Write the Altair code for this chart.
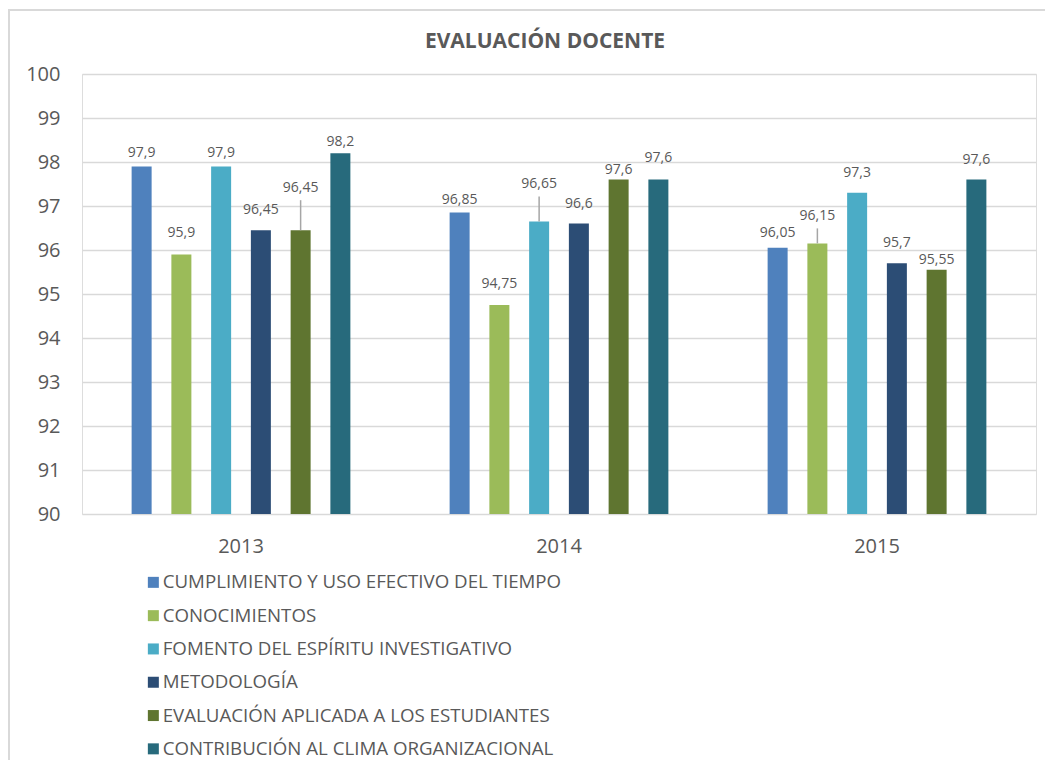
import altair as alt
import pandas as pd

# ---- data ----
years = ["2013", "2014", "2015"]
series = [
    "CUMPLIMIENTO Y USO EFECTIVO DEL TIEMPO",
    "CONOCIMIENTOS",
    "FOMENTO DEL ESPÍRITU INVESTIGATIVO",
    "METODOLOGÍA",
    "EVALUACIÓN APLICADA A LOS ESTUDIANTES",
    "CONTRIBUCIÓN AL CLIMA ORGANIZACIONAL",
]
values_2013 = [97.9, 95.9, 97.9, 96.45, 96.45, 98.2]
values_2014 = [96.85, 94.75, 96.65, 96.6, 97.6, 97.6]
values_2015 = [96.05, 96.15, 97.3, 95.7, 95.55, 97.6]
labels_2013 = ["97,9", "95,9", "97,9", "96,45", "96,45", "98,2"]
labels_2014 = ["96,85", "94,75", "96,65", "96,6", "97,6", "97,6"]
labels_2015 = ["96,05", "96,15", "97,3", "95,7", "95,55", "97,6"]

colors = ["#4f81bd", "#9bbb59", "#4bacc6", "#2c4d75", "#5f7530", "#276a7c"]

# ---- label placement (styling, pixels above the bar top) ----
label_lift_px = {
    "2013": [13, 21, 13, 20, 42, 11],
    "2014": [13, 21, 37, 20, 10, 22],
    "2015": [15, 27, 20, 20, 10, 20],
}
leader_lines = {("2013", 4), ("2014", 2), ("2015", 1)}

W, H = 954, 440
YMIN, YMAX = 90, 100
PX_PER_UNIT = H / (YMAX - YMIN)

rows = []
for y, vals, labs in zip(years, [values_2013, values_2014, values_2015],
                         [labels_2013, labels_2014, labels_2015]):
    for i, (s, v, l) in enumerate(zip(series, vals, labs)):
        lift = label_lift_px[y][i]
        rows.append({
            "year": y, "series": s, "order": i, "value": v, "label": l,
            "label_y": v + lift / PX_PER_UNIT,
            "leader": (y, i) in leader_lines,
            "leader_top": v + (lift - 12) / PX_PER_UNIT,
        })
df = pd.DataFrame(rows)

FONT = "Open Sans"
TXT = "#595959"

x_enc = alt.X("year:N", title=None, sort=years,
              scale=alt.Scale(paddingInner=0.25, paddingOuter=0.125),
              axis=alt.Axis(labelFontSize=20, labelColor=TXT, labelFont=FONT,
                            labelAngle=0, ticks=False, domain=False, grid=False,
                            labelPadding=22))
xo_enc = alt.XOffset("series:N", sort=series,
                     scale=alt.Scale(paddingInner=0.5, paddingOuter=0.25))
y_scale = alt.Scale(domain=[YMIN, YMAX], nice=False, zero=False, clamp=True)

base = alt.Chart(df)

bars = base.mark_bar(size=20).encode(
    x=x_enc,
    xOffset=xo_enc,
    y=alt.Y("value:Q", title=None, scale=y_scale,
            axis=alt.Axis(values=list(range(90, 101)), labelFontSize=20,
                          labelColor=TXT, labelFont=FONT, ticks=False,
                          domain=False, gridColor="#d9d9d9", gridWidth=1.6,
                          labelPadding=22)),
    y2=alt.datum(YMIN),
    color=alt.Color("series:N", sort=series,
                    scale=alt.Scale(domain=series, range=colors),
                    legend=alt.Legend(title=None, orient="none",
                                      legendX=62, legendY=499,
                                      direction="vertical",
                                      symbolType="square", symbolSize=121,
                                      symbolStrokeWidth=0,
                                      labelFontSize=18.7, labelFont=FONT,
                                      labelColor=TXT, labelOffset=0,
                                      rowPadding=13.3, padding=0,
                                      labelLimit=600)),
)

leaders = base.transform_filter("datum.leader").mark_rule(
    color="#a6a6a6", strokeWidth=1.5
).encode(
    x=alt.X("year:N", sort=years),
    xOffset=alt.XOffset("series:N", sort=series),
    y=alt.Y("value:Q", scale=y_scale),
    y2=alt.Y2("leader_top:Q"),
)

texts = base.mark_text(fontSize=14, font=FONT, color=TXT, baseline="middle").encode(
    x=alt.X("year:N", sort=years),
    xOffset=alt.XOffset("series:N", sort=series),
    y=alt.Y("label_y:Q", scale=y_scale),
    text="label:N",
)

border = alt.Chart(pd.DataFrame({"a": [0]})).mark_rect(
    fill=None, stroke="#d9d9d9", strokeWidth=2, clip=False
).encode(
    x=alt.value(-73), x2=alt.value(W + 20),
    y=alt.value(-64), y2=alt.value(H + 320),
)

chart = alt.layer(border, bars, leaders, texts).properties(
    width=W, height=H,
    padding={"left": 74, "top": 66, "right": 9, "bottom": 246},
    autosize=alt.AutoSizeParams(type="none"),
    title=alt.TitleParams("EVALUACIÓN DOCENTE", fontSize=21, fontWeight="bold",
                          font=FONT, color=TXT, anchor="middle", dx=-14,
                          offset=-43),
).configure_view(stroke=None).configure(
    background="white"
)

chart.save("out.html", embed_options={"renderer": "svg", "actions": False})
